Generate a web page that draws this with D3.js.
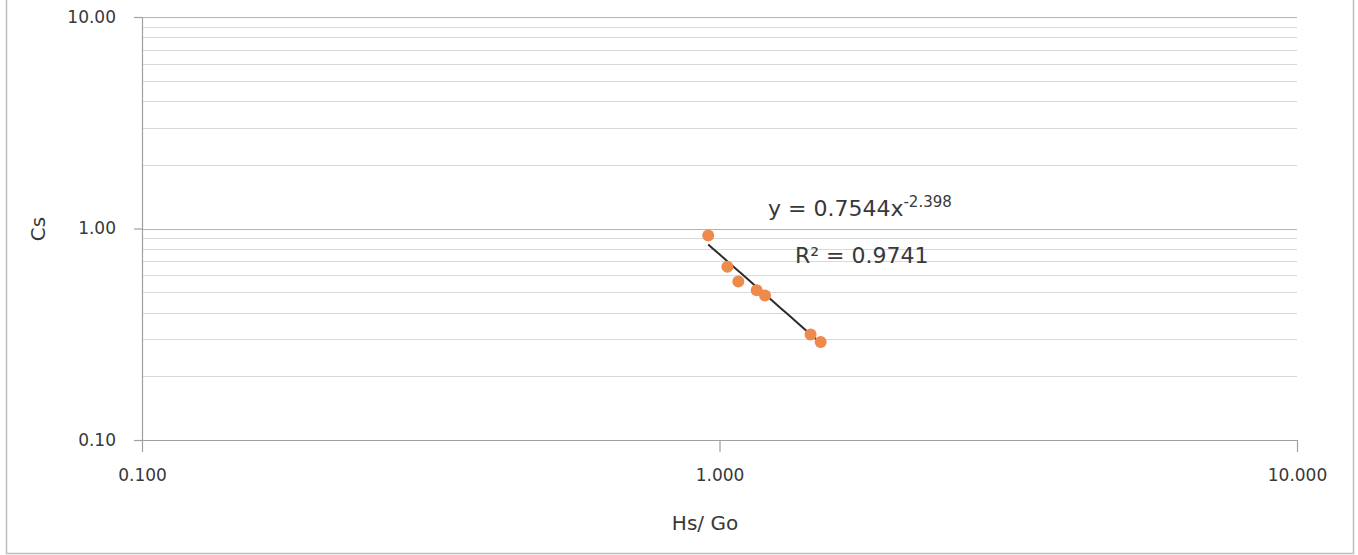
<!DOCTYPE html>
<html>
<head>
<meta charset="utf-8">
<script src="https://cdn.jsdelivr.net/npm/d3@7"></script>
<style>
  body { margin: 0; background: #fff; }
  svg { display: block; font-family: "DejaVu Sans", Verdana, sans-serif; }
</style>
</head>
<body>
<svg id="chart" width="1358" height="555"></svg>
<script>
// measured points (Hs/Go, Cs)
var hsGo = [0.956, 1.032, 1.078, 1.160, 1.199, 1.438, 1.497];
var cs = [0.927, 0.659, 0.562, 0.511, 0.482, 0.315, 0.291];

// power trendline from the chart
var trendA = 0.7544;
var trendB = -2.398;
var rSquared = '0.9741';

var xTicks = [0.1, 1, 10];
var yTicks = [0.1, 1, 10];

var svg = d3.select('#chart');

// frame of the chart area
svg.append('path')
    .attr('d', 'M6.5,0 V553.5 H1353.5 V0')
    .attr('fill', 'none')
    .attr('stroke', '#bdbdbd')
    .attr('stroke-width', 1.5);

var x = d3.scaleLog().domain([0.1, 10]).range([142, 1297]);
var y = d3.scaleLog().domain([0.1, 10]).range([440, 17]);

// minor gridlines 2..9 per decade
var minor = [];
[0.1, 1].forEach(function(d) {
    for (var i = 2; i <= 9; i++) minor.push(d * i);
});
svg.append('g').selectAll('line')
    .data(minor)
    .enter()
    .append('line')
      .attr('x1', x(0.1)).attr('x2', x(10))
      .attr('y1', function(d) { return Math.round(y(d)) + 0.5; })
      .attr('y2', function(d) { return Math.round(y(d)) + 0.5; })
      .attr('stroke', '#d9d9d9')
      .attr('stroke-width', 1);

// major gridlines
svg.append('g').selectAll('line')
    .data([1, 10])
    .enter()
    .append('line')
      .attr('x1', x(0.1)).attr('x2', x(10))
      .attr('y1', function(d) { return Math.round(y(d)) + 0.5; })
      .attr('y2', function(d) { return Math.round(y(d)) + 0.5; })
      .attr('stroke', '#b4b4b4')
      .attr('stroke-width', 1.2);

var xAxis = d3.axisBottom(x)
    .tickValues(xTicks)
    .tickFormat(d3.format('.3f'))
    .tickSizeInner(12)
    .tickSizeOuter(0)
    .tickPadding(17);

var yAxis = d3.axisLeft(y)
    .tickValues(yTicks)
    .tickFormat(d3.format('.2f'))
    .tickSizeInner(8)
    .tickSizeOuter(0)
    .tickPadding(18);

var gx = svg.append('g')
    .attr('transform', 'translate(0,440)')
    .call(xAxis);
var gy = svg.append('g')
    .attr('transform', 'translate(142,0)')
    .call(yAxis);

[gx, gy].forEach(function(g) {
    g.attr('font-size', 17).attr('font-family', '"DejaVu Sans", sans-serif');
    g.selectAll('path, line').attr('stroke', '#a0a0a0').attr('stroke-width', 1.2);
    g.selectAll('text')
        .attr('fill', '#383838')
        .attr('font-size', 17);
});

// axis titles
svg.append('text')
    .attr('x', 705).attr('y', 530)
    .attr('text-anchor', 'middle')
    .attr('fill', '#383838')
    .style('font-size', '20px')
    .text('Hs/ Go');

svg.append('text')
    .attr('transform', 'translate(45,229) rotate(-90)')
    .attr('text-anchor', 'middle')
    .attr('fill', '#383838')
    .style('font-size', '20px')
    .text('Cs');

// trendline over the data range
var xMin = d3.min(hsGo), xMax = d3.max(hsGo);
var trend = d3.range(0, 21).map(function(i) {
    var xv = xMin * Math.pow(xMax / xMin, i / 20);
    return [xv, trendA * Math.pow(xv, trendB)];
});
svg.append('path')
    .datum(trend)
    .attr('d', d3.line().x(function(d) { return x(d[0]); }).y(function(d) { return y(d[1]); }))
    .attr('fill', 'none')
    .attr('stroke', '#2b2b2b')
    .attr('stroke-width', 2);

// points
svg.append('g').selectAll('circle')
    .data(hsGo)
    .enter()
    .append('circle')
      .attr('cx', function(d) { return x(d); })
      .attr('cy', function(d, i) { return y(cs[i]); })
      .attr('r', 6)
      .attr('fill', '#ee8a4c');

// trendline label
var eq = svg.append('text')
    .attr('x', 768).attr('y', 216)
    .attr('fill', '#383838')
    .style('font-size', '22px');
eq.append('tspan').text('y = ' + trendA + 'x');
eq.append('tspan')
    .attr('dy', -9)
    .style('font-size', '15px')
    .text(String(trendB));

svg.append('text')
    .attr('x', 795).attr('y', 263)
    .attr('fill', '#383838')
    .style('font-size', '22px')
    .text('R² = ' + rSquared);
</script>
</body>
</html>
